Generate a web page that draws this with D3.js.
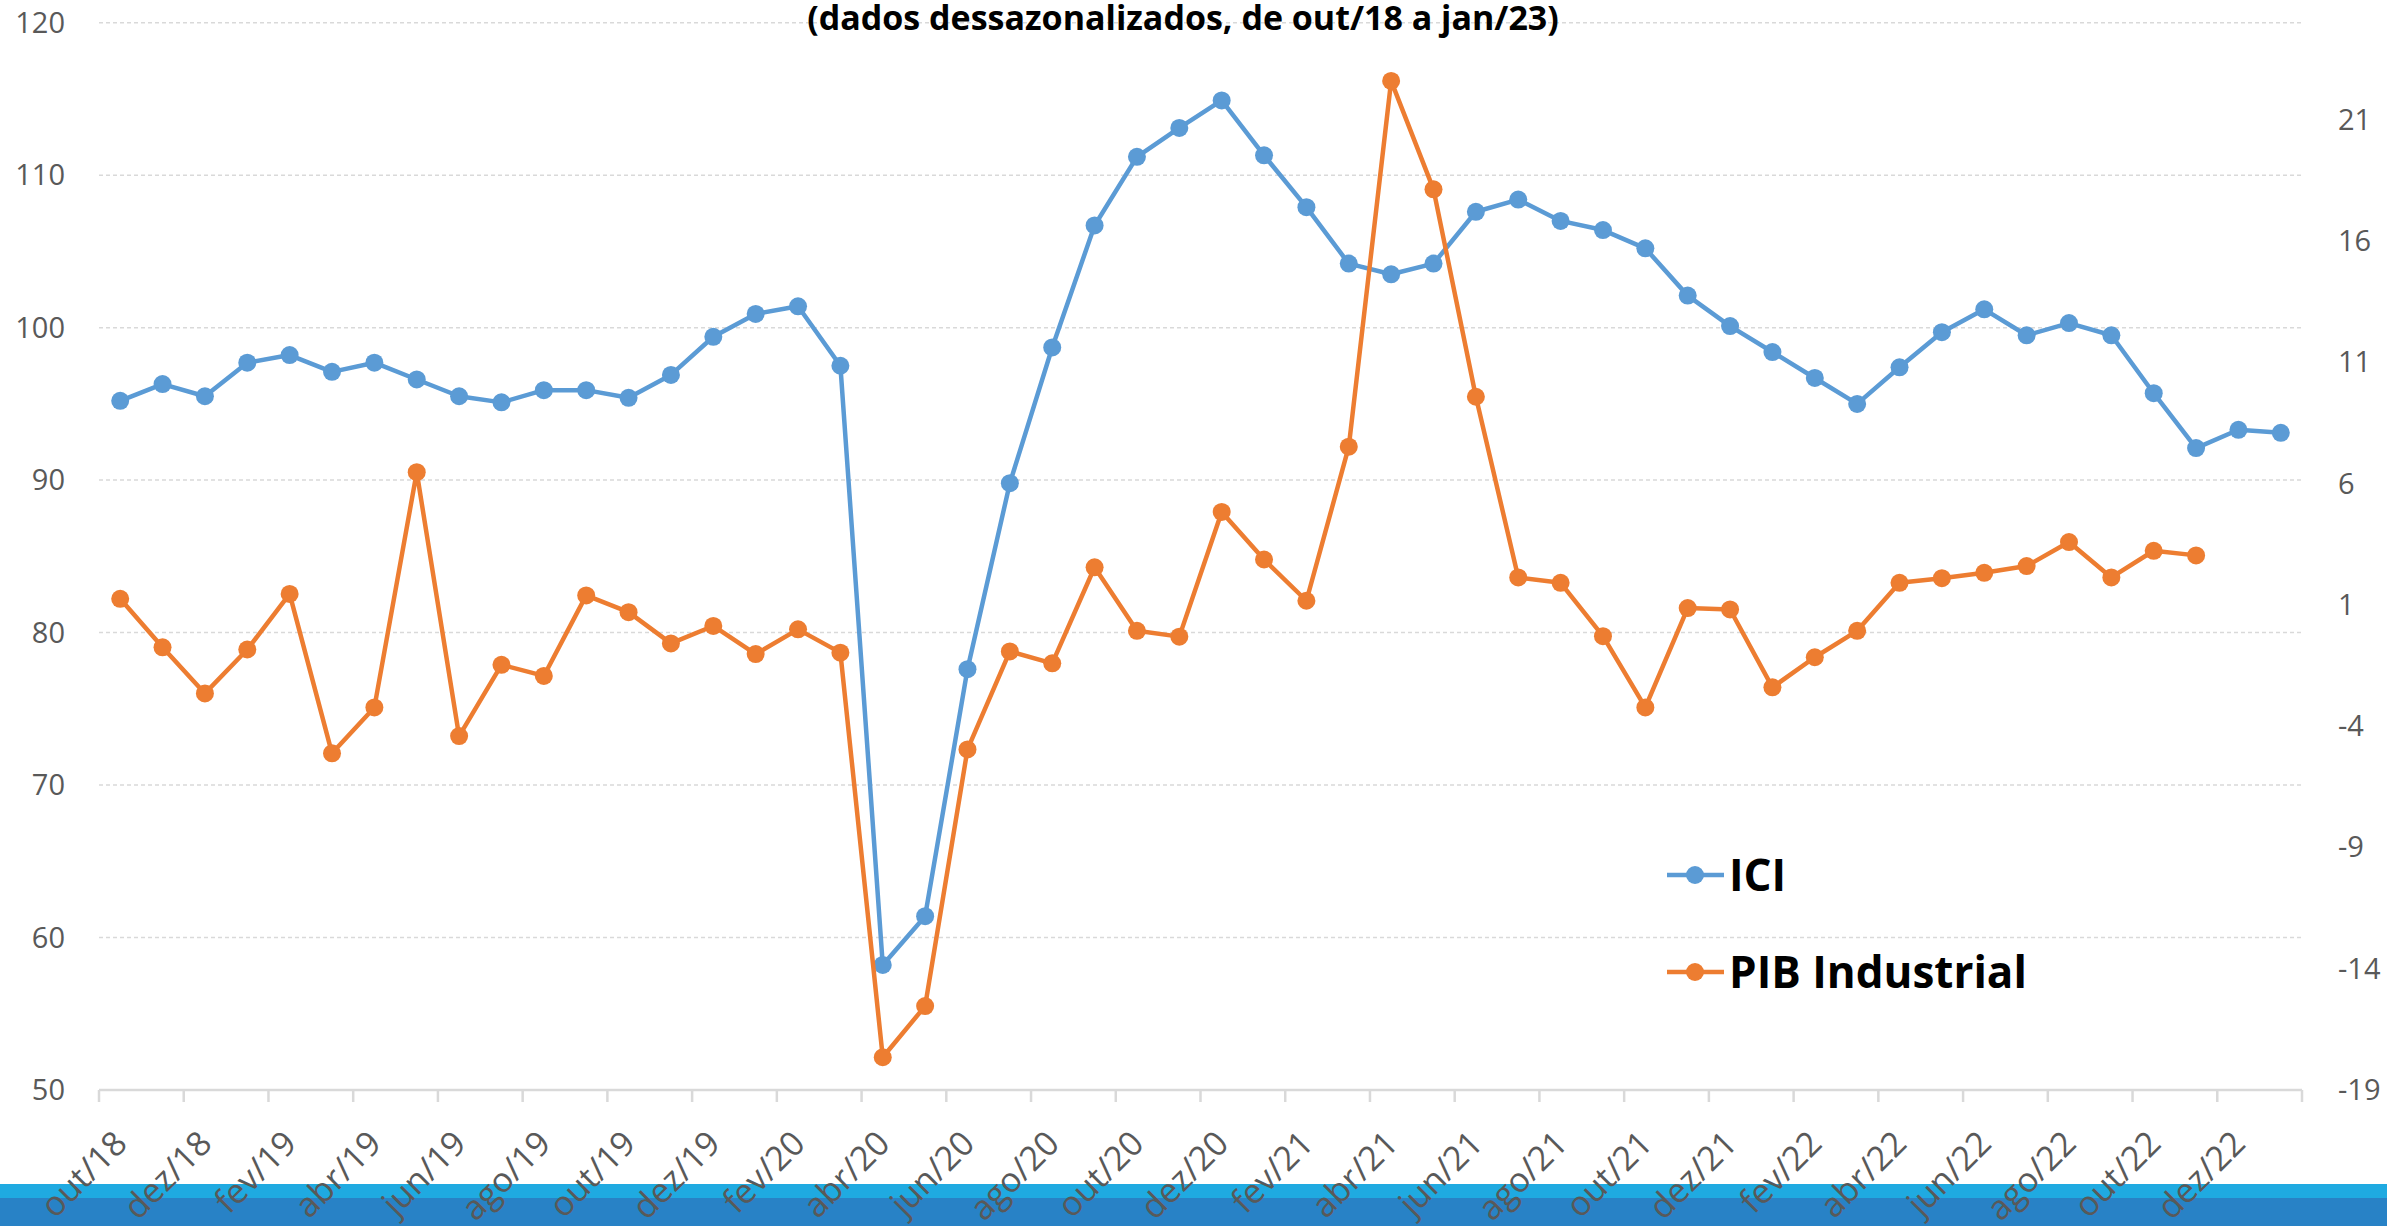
<!DOCTYPE html>
<html>
<head>
<meta charset="utf-8">
<script src="https://cdn.jsdelivr.net/npm/d3@7"></script>
<style>
  body { margin: 0; background: #fff; }
  svg { display: block; font-family: 'Open Sans', sans-serif; }
</style>
</head>
<body>
<div id="chart"></div>
<script>
const months = [
    'out/18', 'nov/18', 'dez/18',
    'jan/19', 'fev/19', 'mar/19', 'abr/19', 'mai/19', 'jun/19', 'jul/19', 'ago/19', 'set/19', 'out/19', 'nov/19', 'dez/19',
    'jan/20', 'fev/20', 'mar/20', 'abr/20', 'mai/20', 'jun/20', 'jul/20', 'ago/20', 'set/20', 'out/20', 'nov/20', 'dez/20',
    'jan/21', 'fev/21', 'mar/21', 'abr/21', 'mai/21', 'jun/21', 'jul/21', 'ago/21', 'set/21', 'out/21', 'nov/21', 'dez/21',
    'jan/22', 'fev/22', 'mar/22', 'abr/22', 'mai/22', 'jun/22', 'jul/22', 'ago/22', 'set/22', 'out/22', 'nov/22', 'dez/22',
    'jan/23'
];

// ICI (left axis)
const ici = [
    95.2, 96.3, 95.5, 97.7, 98.2, 97.1, 97.7, 96.6, 95.5, 95.1, 95.9, 95.9, 95.4, 96.9, 99.4,
    100.9, 101.4, 97.5, 58.2, 61.4, 77.6, 89.8, 98.7, 106.7, 111.2, 113.1, 114.9,
    111.3, 107.9, 104.2, 103.5, 104.2, 107.6, 108.4, 107.0, 106.4, 105.2, 102.1, 100.1,
    98.4, 96.7, 95.0, 97.4, 99.7, 101.2, 99.5, 100.3, 99.5, 95.7, 92.1, 93.3,
    93.1
];

// PIB Industrial (right axis), ends in nov/22
const pibIndustrial = [
    1.25, -0.75, -2.65, -0.84, 1.45, -5.12, -3.23, 6.47, -4.41, -1.47, -1.93, 1.39, 0.70, -0.59, 0.13,
    -1.03, -0.01, -0.97, -17.65, -15.54, -4.96, -0.92, -1.41, 2.55, -0.07, -0.31, 4.83,
    2.87, 1.17, 7.52, 22.6, 18.13, 9.58, 2.13, 1.91, -0.29, -3.23, 0.87, 0.81,
    -2.4, -1.16, -0.07, 1.91, 2.1, 2.32, 2.6, 3.59, 2.13, 3.23, 3.04
];

const leftTicks = [50, 60, 70, 80, 90, 100, 110, 120];
const rightTicks = [-19, -14, -9, -4, 1, 6, 11, 16, 21];
const title = '(dados dessazonalizados, de out/18 a jan/23)';

const width = 2387;
const height = 1226;
const margin = { top: 22.7, right: 85, bottom: 136, left: 99 };
const blue = '#5b9bd5';
const orange = '#ed7d31';

const svg = d3.select('#chart')
    .append('svg')
    .attr('width', width)
    .attr('height', height)
    .style('background', '#fff');

const x = d3.scaleBand()
    .domain(months)
    .range([margin.left, width - margin.right])
    .padding(0);
const cx = m => x(m) + x.bandwidth() / 2;

const y = d3.scaleLinear()
    .domain([50, 120])
    .range([height - margin.bottom, margin.top]);

const y2 = d3.scaleLinear()
    .domain([-19, 25])
    .range([height - margin.bottom, margin.top]);

// gridlines
svg.append('g')
    .selectAll('line')
    .data(leftTicks.slice(1))
    .join('line')
    .attr('x1', margin.left)
    .attr('x2', width - margin.right)
    .attr('y1', d => y(d))
    .attr('y2', d => y(d))
    .attr('stroke', '#d9d9d9')
    .attr('stroke-width', 1.5)
    .attr('stroke-dasharray', '4,3');

// x axis line + tick marks every 2 months
const x0 = height - margin.bottom;
svg.append('line')
    .attr('x1', margin.left)
    .attr('x2', width - margin.right)
    .attr('y1', x0)
    .attr('y2', x0)
    .attr('stroke', '#d9d9d9')
    .attr('stroke-width', 2.5);

const tickPos = months.filter((m, i) => i % 2 === 0).map(m => x(m)).concat([width - margin.right]);
svg.append('g')
    .selectAll('line')
    .data(tickPos)
    .join('line')
    .attr('x1', d => d)
    .attr('x2', d => d)
    .attr('y1', x0)
    .attr('y2', x0 + 12)
    .attr('stroke', '#d9d9d9')
    .attr('stroke-width', 2.5);

// left axis labels
svg.append('g')
    .selectAll('text')
    .data(leftTicks)
    .join('text')
    .attr('x', 65)
    .attr('y', d => y(d) + 10)
    .attr('text-anchor', 'end')
    .attr('fill', '#595959')
    .style('font-size', '29px')
    .text(d => d);

// right axis labels
svg.append('g')
    .selectAll('text')
    .data(rightTicks)
    .join('text')
    .attr('x', 2338)
    .attr('y', d => y2(d) + 10)
    .attr('text-anchor', 'start')
    .attr('fill', '#595959')
    .style('font-size', '29px')
    .text(d => d);

// bottom band
svg.append('rect')
    .attr('x', 0).attr('y', 1184)
    .attr('width', width).attr('height', 14)
    .attr('fill', '#1faae1');
svg.append('rect')
    .attr('x', 0).attr('y', 1198)
    .attr('width', width).attr('height', height - 1198)
    .attr('fill', '#2882c6');

// x labels, rotated
svg.append('g')
    .selectAll('text')
    .data(months.filter((m, i) => i % 2 === 0))
    .join('text')
    .attr('transform', d => `translate(${cx(d) + 0.5},${x0 + 47}) rotate(-45)`)
    .attr('text-anchor', 'end')
    .attr('dy', '0.35em')
    .attr('fill', '#595959')
    .style('font-size', '34px')
    .text(d => d);

// series
function drawSeries(values, scale, color) {
    const pts = values.map((v, i) => ({ m: months[i], v: v }));
    const line = d3.line()
        .x(d => cx(d.m))
        .y(d => scale(d.v));
    svg.append('path')
        .datum(pts)
        .attr('d', line)
        .attr('fill', 'none')
        .attr('stroke', color)
        .attr('stroke-width', 4.5)
        .attr('stroke-linejoin', 'round');
    svg.append('g')
        .selectAll('circle')
        .data(pts)
        .join('circle')
        .attr('cx', d => cx(d.m))
        .attr('cy', d => scale(d.v))
        .attr('r', 9)
        .attr('fill', color);
}

drawSeries(ici, y, blue);
drawSeries(pibIndustrial, y2, orange);

// title
svg.append('text')
    .attr('x', 1183)
    .attr('y', 30)
    .attr('text-anchor', 'middle')
    .style('font-size', '34px')
    .style('font-weight', 'bold')
    .attr('fill', '#000')
    .text(title);

// legend
const legend = [
    { name: 'ICI', color: blue, yc: 875 },
    { name: 'PIB Industrial', color: orange, yc: 972 }
];
const lg = svg.append('g').selectAll('g').data(legend).join('g');
lg.append('line')
    .attr('x1', 1667).attr('x2', 1724)
    .attr('y1', d => d.yc).attr('y2', d => d.yc)
    .attr('stroke', d => d.color)
    .attr('stroke-width', 4.5);
lg.append('circle')
    .attr('cx', 1695).attr('cy', d => d.yc)
    .attr('r', 9)
    .attr('fill', d => d.color);
lg.append('text')
    .attr('x', 1729)
    .attr('y', d => d.yc + 16)
    .style('font-size', '44px')
    .style('font-weight', 'bold')
    .attr('fill', '#000')
    .text(d => d.name);
</script>
</body>
</html>
